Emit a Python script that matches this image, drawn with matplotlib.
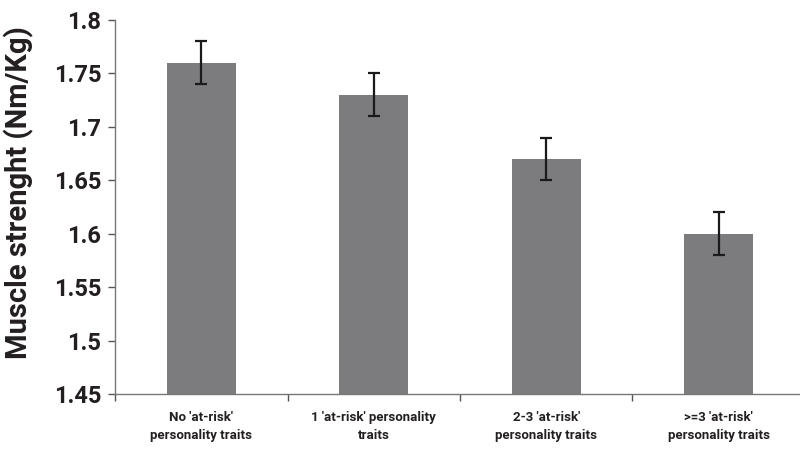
import matplotlib
matplotlib.use("Agg")
import matplotlib.pyplot as plt
import numpy as np

categories = ["No 'at-risk'\npersonality traits", "1 'at-risk' personality\ntraits",
              "2-3 'at-risk'\npersonality traits", ">=3 'at-risk'\npersonality traits"]
values = [1.76, 1.73, 1.67, 1.60]
errors = [0.02, 0.02, 0.02, 0.02]
yticks = [1.45, 1.5, 1.55, 1.6, 1.65, 1.7, 1.75, 1.8]
ytick_labels = ["1.45", "1.5", "1.55", "1.6", "1.65", "1.7", "1.75", "1.8"]

plt.rcParams['font.family'] = ['Roboto', 'DejaVu Sans']
fig = plt.figure(figsize=(8, 4.55), dpi=100)
ax = fig.add_axes([0.144, 0.134, 0.862, 0.822])
x = np.arange(len(values))
ax.bar(x, values, width=0.4, color='#7c7c7e', bottom=0)
ax.errorbar(x, values, yerr=errors, fmt='none', ecolor='#1a1a1a', elinewidth=1.6, capsize=4, capthick=1.6)
ax.set_ylim(1.45, 1.8)
ax.set_xlim(-0.5, len(values) - 0.5)
ax.set_yticks(yticks)
ax.set_yticklabels(ytick_labels, fontsize=17, fontweight='bold', color='#231f20')
ax.set_xticks(x)
ax.set_xticklabels(categories, fontsize=9.5, fontweight='bold', color='#231f20', linespacing=1.5)
ax.tick_params(axis='x', length=0, pad=12)
ax.set_xticks(np.arange(-0.5, len(values)), minor=True)
ax.tick_params(axis='x', which='minor', length=5, width=1, color='#555555')
ax.tick_params(axis='y', length=5, width=1, color='#555555', pad=5)
ax.set_ylabel("Muscle strenght (Nm/Kg)", fontsize=21, fontweight='bold', color='#231f20')
ax.yaxis.set_label_coords(-0.118, 0.54)
for s in ['top', 'right']:
    ax.spines[s].set_visible(False)
for s in ['left', 'bottom']:
    ax.spines[s].set_color('#777777')
    ax.spines[s].set_linewidth(1)
fig.savefig("out.png", dpi=100)
